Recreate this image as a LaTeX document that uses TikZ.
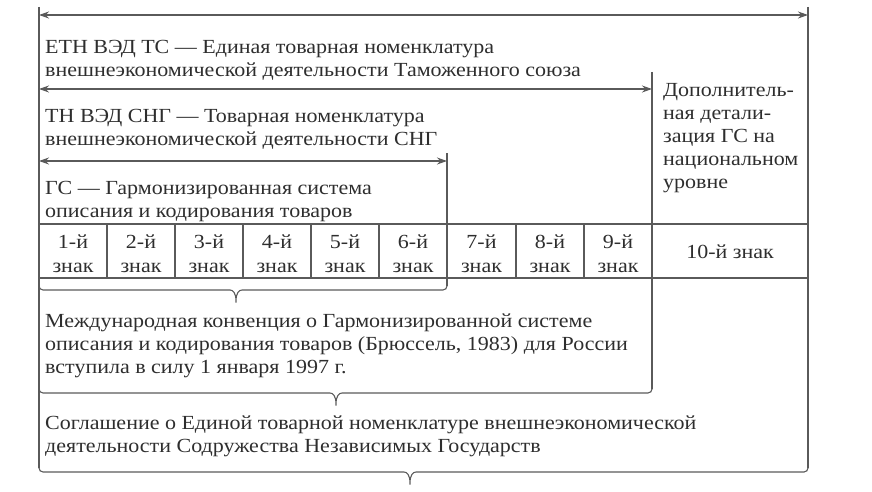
\documentclass[tikz,border=0pt]{standalone}
\usepackage{fontspec}
\setmainfont{Liberation Serif}[FakeStretch=1.1]
\usetikzlibrary{arrows.meta}
\definecolor{ln}{HTML}{5A5A5A}
\definecolor{tx}{HTML}{2E2E2E}
\tikzset{
 ln/.style={draw=ln, line width=1.1pt},
 arr/.style={ln, {Stealth[length=10pt,width=7pt]}-{Stealth[length=10pt,width=7pt]}},
 txt/.style={anchor=base west, inner sep=0pt, align=left, text=tx, font=\fontsize{20}{23}\selectfont},
 cell/.style={anchor=base, inner sep=0pt, align=center, text=tx, font=\fontsize{20}{24}\selectfont},
}
\newcommand\mybrace[4]{%
 \draw[ln, rounded corners=4pt] (#1,#3-8) -- (#1,#3) -- (#4-10,#3) .. controls (#4-3,#3) and (#4,#3+3) .. (#4,#3+15) .. controls (#4,#3+3) and (#4+3,#3) .. (#4+10,#3) -- (#2,#3) -- (#2,#3-8);}
\begin{document}
\begin{tikzpicture}[x=1pt,y=-1pt]
\useasboundingbox (0,0) rectangle (872,492);
% frame coordinates
\coordinate (L0) at (39,7);
\coordinate (L1) at (39,468);
\coordinate (R0) at (808,7);
\coordinate (R1) at (808,468);
\coordinate (M0) at (652,72);
\coordinate (M1) at (652,389);
\coordinate (S0) at (447,153);
\coordinate (S1) at (447,286);
\draw[ln] (L0) -- (L1);
\draw[ln] (R0) -- (R1);
\draw[ln] (M0) -- (M1);
\draw[ln] (S0) -- (S1);
% arrows
\coordinate (a1l) at (39,15);  \coordinate (a1r) at (808,15);
\coordinate (a2l) at (39,89);  \coordinate (a2r) at (652,89);
\coordinate (a3l) at (39,161); \coordinate (a3r) at (447,161);
\draw[arr] (a1l) -- (a1r);
\draw[arr] (a2l) -- (a2r);
\draw[arr] (a3l) -- (a3r);
% table
\draw[ln] (39,224) -- (808,224);
\draw[ln] (39,278) -- (808,278);
\foreach \x in {107,175,243,311,379,516,584} \draw[ln] (\x,224) -- (\x,278);
% texts (anchor = baseline of the last line)
\node[txt] (t1) at (45,77) {ЕТН ВЭД ТС — Единая товарная номенклатура\\внешнеэкономической деятельности Таможенного союза};
\node[txt] (t2) at (45,145) {ТН ВЭД СНГ — Товарная номенклатура\\внешнеэкономической деятельности СНГ};
\node[txt] (t3) at (45,217) {ГС — Гармонизированная система\\описания и кодирования товаров};
\node[txt] (t4) at (663,188) {Дополнитель-\\ная детали-\\зация ГС на\\национальном\\уровне};
\node[txt] (t5) at (45,373) {Международная конвенция о Гармонизированной системе\\описания и кодирования товаров (Брюссель, 1983) для России\\вступила в силу 1 января 1997 г.};
\node[txt] (t6) at (45,452) {Соглашение о Единой товарной номенклатуре внешнеэкономической\\деятельности Содружества Независимых Государств};
% cells
\node[cell] (c1) at (73,272) {1-й\\знак};
\node[cell] (c2) at (141,272) {2-й\\знак};
\node[cell] (c3) at (209,272) {3-й\\знак};
\node[cell] (c4) at (277,272) {4-й\\знак};
\node[cell] (c5) at (345,272) {5-й\\знак};
\node[cell] (c6) at (413,272) {6-й\\знак};
\node[cell] (c7) at (481.5,272) {7-й\\знак};
\node[cell] (c8) at (550,272) {8-й\\знак};
\node[cell] (c9) at (618,272) {9-й\\знак};
\node[cell] (c10) at (730,258) {10-й знак};
% braces
\mybrace{39}{447}{290}{236}
\mybrace{39}{652}{393}{336}
\mybrace{39}{808}{472}{410}
\end{tikzpicture}
\end{document}
